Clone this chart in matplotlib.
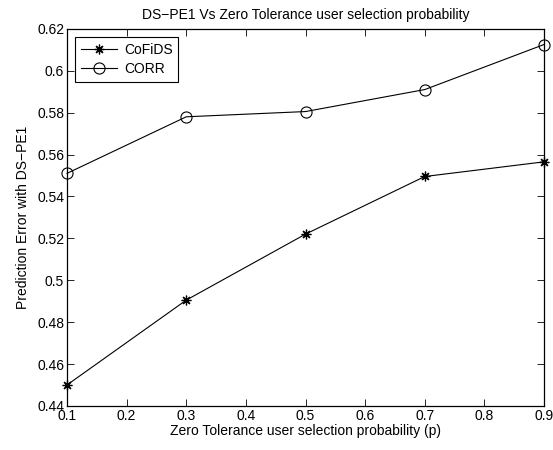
import matplotlib
matplotlib.use("Agg")
import matplotlib.pyplot as plt

p_values = [0.1, 0.3, 0.5, 0.7, 0.9]
cofids_error = [0.450, 0.4905, 0.522, 0.5495, 0.5565]
corr_error = [0.551, 0.578, 0.5805, 0.591, 0.6125]
x_ticks = [0.1, 0.2, 0.3, 0.4, 0.5, 0.6, 0.7, 0.8, 0.9]
y_ticks = [0.44, 0.46, 0.48, 0.5, 0.52, 0.54, 0.56, 0.58, 0.6, 0.62]

plt.rcParams['font.family'] = ['Liberation Sans', 'DejaVu Sans']
plt.rcParams['font.size'] = 10

fig = plt.figure(figsize=(5.53, 4.5), dpi=100)
ax = fig.add_axes([0.1212, 0.098, 0.8626, 0.838])

ax.plot(p_values, cofids_error, color='black', linewidth=0.8, marker=(8, 2, 0),
        markersize=7, markeredgewidth=0.9, label='CoFiDS', clip_on=False)
ax.plot(p_values, corr_error, color='black', linewidth=0.8, marker='o',
        markersize=8, markerfacecolor='none', markeredgewidth=0.8, label='CORR',
        clip_on=False)

ax.set_xlim(0.1, 0.9)
ax.set_ylim(0.44, 0.62)
ax.set_xticks(x_ticks)
ax.set_xticklabels([f"{t:g}" for t in x_ticks])
ax.set_yticks(y_ticks)
ax.set_yticklabels([f"{t:g}" for t in y_ticks])
ax.tick_params(direction='in', top=True, right=True, length=5, width=0.6, pad=2)
for spine in ax.spines.values():
    spine.set_linewidth(0.9)

ax.set_title("DS\u2212PE1 Vs Zero Tolerance user selection probability", fontsize=10, pad=7)
ax.set_xlabel("Zero Tolerance user selection probability (p)", labelpad=1)
ax.set_ylabel("Prediction Error with DS\u2212PE1", labelpad=5)

leg = ax.legend(loc='upper left', fancybox=False, edgecolor='black',
                framealpha=1, borderaxespad=0.6, handlelength=2.6,
                borderpad=0.4, labelspacing=0.4, handletextpad=0.5)
leg.get_frame().set_linewidth(0.8)

fig.savefig("out.png", dpi=100)
